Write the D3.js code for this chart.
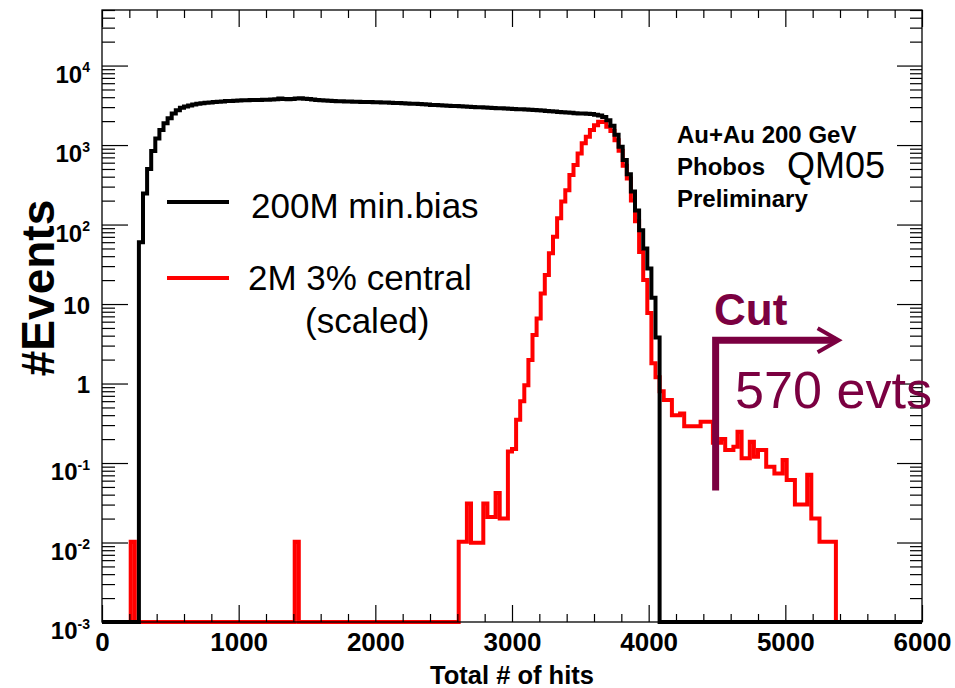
<!DOCTYPE html>
<html>
<head>
<meta charset="utf-8">
<script src="https://cdn.jsdelivr.net/npm/d3@7"></script>
<style>
  body { margin: 0; background: #fff; }
  svg { display: block; }
  text { font-family: 'Liberation Sans', Arial, Helvetica, sans-serif; }
</style>
</head>
<body>
<svg id="chart" width="955" height="688"></svg>
<script>
// histogram binning + axis ranges
const binWidth = 30
const xDomain = [0, 6000]
const yDomain = [1e-3, 5e4]
const xMajorTicks = [0, 1000, 2000, 3000, 4000, 5000, 6000]
const yDecades = [1e-3, 1e-2, 1e-1, 1, 10, 1e2, 1e3, 1e4]

// 200M min.bias, one value per bin starting at minBiasStart
const minBiasStart = 270
const minBiasCounts = [
  60, 245, 500, 840, 1210, 1550, 1880, 2170, 2500, 2750, 2950, 3050, 3150, 3230, 3300, 3350, 3400, 3440, 3480,
  3510, 3540, 3570, 3590, 3610, 3630, 3650, 3660, 3680, 3690, 3700, 3710, 3720, 3740, 3760, 3860, 3800, 3780,
  3800, 3850, 3870, 3830, 3790,
  3740, 3700, 3660, 3640, 3610, 3580, 3560, 3550, 3530, 3520, 3510, 3500, 3490, 3480, 3470, 3460, 3450, 3430,
  3420, 3400, 3390, 3370, 3350, 3340, 3320, 3300, 3280, 3250, 3230, 3200,
  3180, 3170, 3150, 3130, 3110, 3090, 3070, 3060, 3040, 3020, 3000, 2980, 2960, 2940, 2920, 2910, 2900, 2880,
  2870, 2850, 2830, 2820, 2800, 2780, 2760, 2740, 2720, 2690, 2670, 2640, 2610, 2590, 2560, 2540, 2520, 2500,
  2490, 2480, 2450, 2400, 2350,
  2250, 2050, 1750, 1350, 950, 650, 430, 260, 150, 85, 50, 28, 12, 3.8
]

// 2M 3% central (scaled)
const centralSpikes = [[210, 0.0102], [1410, 0.0102]]
const centralStart = 2610
const centralCounts = [
  0.0102, 0.0102, 0.031, 0.0099, 0.0099, 0.0099, 0.031, 0.021, 0.021, 0.042, 0.020, 0.020,
  0.14, 0.15, 0.35, 0.6, 0.95, 1.98, 4.07, 6.6, 13.6, 23.2, 43.4, 70,
  120, 195, 271, 419, 560, 785, 1050, 1270, 1548, 1780, 1960, 1950,
  1700, 1500, 1150, 850, 550, 380, 200, 110, 45, 20, 7.7, 1.8,
  1.2, 0.8, 0.62, 0.62, 0.40, 0.40, 0.42, 0.29, 0.29, 0.29, 0.29, 0.33,
  0.33, 0.33, 0.18, 0.18, 0.20, 0.146, 0.146, 0.16, 0.248, 0.115, 0.115, 0.185,
  0.12, 0.146, 0.146, 0.09, 0.09, 0.074, 0.074, 0.109, 0.061, 0.061, 0.030, 0.030,
  0.030, 0.071, 0.02, 0.02, 0.0102, 0.0102, 0.0102, 0.0102
]

// cut annotation
const cutHits = 4490
const cutArrowEnd = 5390
const cutTop = 3.5
const cutBottom = 0.045

const legendItems = [
  {label: '200M min.bias', color: '#000'},
  {label: '2M 3% central', sub: '(scaled)', color: '#ff0000'}
]
const infoLines = ['Au+Au 200 GeV', 'Phobos', 'Preliminary']

const frame = {left: 102, right: 922, top: 10, bottom: 622}
const svg = d3.select('#chart')

const x = d3.scaleLinear().domain(xDomain).range([frame.left, frame.right])
const y = d3.scaleLog().domain(yDomain).range([frame.bottom, frame.top])

// minor ticks
const xMinor = d3.range(xDomain[0], xDomain[1] + 1, 200).filter(v => v % 1000 !== 0)
const yMinor = []
yDecades.forEach(d => {
  for (let k = 2; k <= 9; k++) {
    if (k * d <= yDomain[1] * 1.0001) yMinor.push(k * d)
  }
})

function fillBins(start, counts, spikes) {
  const n = Math.round((xDomain[1] - xDomain[0]) / binWidth)
  const vals = new Array(n).fill(0)
  ;(spikes || []).forEach(([h, v]) => { vals[Math.round(h / binWidth)] = v })
  const s = Math.round(start / binWidth)
  counts.forEach((v, i) => { vals[s + i] = v })
  const pts = vals.map((v, i) => [xDomain[0] + i * binWidth, v])
  pts.push([xDomain[1], vals[n - 1]])
  return pts
}

const histLine = d3.line()
  .x(d => x(d[0]))
  .y(d => y(Math.max(d[1], yDomain[0])))
  .curve(d3.curveStepAfter)

// histograms (central first, min.bias on top)
svg.append('path')
  .datum(fillBins(centralStart, centralCounts, centralSpikes))
  .attr('d', histLine)
  .attr('fill', 'none')
  .attr('stroke', '#ff0000')
  .attr('stroke-width', 4)
  .attr('stroke-linejoin', 'miter')

svg.append('path')
  .datum(fillBins(minBiasStart, minBiasCounts))
  .attr('d', histLine)
  .attr('fill', 'none')
  .attr('stroke', '#000')
  .attr('stroke-width', 4)
  .attr('stroke-linejoin', 'miter')

// frame
svg.append('rect')
  .attr('x', frame.left).attr('y', frame.top)
  .attr('width', frame.right - frame.left).attr('height', frame.bottom - frame.top)
  .attr('fill', 'none').attr('stroke', '#000').attr('stroke-width', 1.3)

function styleAxis(g) {
  g.select('.domain').remove()
  g.selectAll('.tick line').attr('stroke', '#000').attr('stroke-width', 1.2)
}

// bottom axis with labels
svg.append('g')
  .attr('transform', `translate(0,${frame.bottom})`)
  .call(d3.axisBottom(x).tickValues(xMajorTicks).tickSize(-17).tickPadding(11).tickFormat(d3.format('d')))
  .call(styleAxis)
  .call(g => g.selectAll('.tick text')
    .attr('font-family', "'Liberation Sans', Arial, sans-serif")
    .attr('font-weight', 'bold')
    .attr('font-size', 26)
    .attr('fill', '#000'))
svg.append('g')
  .attr('transform', `translate(0,${frame.bottom})`)
  .call(d3.axisBottom(x).tickValues(xMinor).tickSize(-8).tickFormat(''))
  .call(styleAxis)

// top axis (ticks only)
svg.append('g')
  .attr('transform', `translate(0,${frame.top})`)
  .call(d3.axisTop(x).tickValues(xMajorTicks).tickSize(-17).tickFormat(''))
  .call(styleAxis)
svg.append('g')
  .attr('transform', `translate(0,${frame.top})`)
  .call(d3.axisTop(x).tickValues(xMinor).tickSize(-8).tickFormat(''))
  .call(styleAxis)

// left axis with 10^n labels
svg.append('g')
  .attr('transform', `translate(${frame.left},0)`)
  .call(d3.axisLeft(y).tickValues(yDecades).tickSize(-26).tickPadding(12).tickFormat(''))
  .call(styleAxis)
  .call(g => g.selectAll('.tick text').each(function(d) {
    const t = d3.select(this)
      .attr('font-family', "'Liberation Sans', Arial, sans-serif")
      .attr('font-weight', 'bold')
      .attr('font-size', 24)
      .attr('fill', '#000')
    const e = Math.round(Math.log10(d))
    if (e === 0 || e === 1) {
      t.attr('dy', 9).text(e === 0 ? '1' : '10')
    } else {
      t.attr('dy', 16.5)
      t.append('tspan').text('10')
      t.append('tspan').attr('dy', -10.5).attr('font-size', 14).text(e)
    }
  }))
svg.append('g')
  .attr('transform', `translate(${frame.left},0)`)
  .call(d3.axisLeft(y).tickValues(yMinor).tickSize(-13).tickFormat(''))
  .call(styleAxis)

// right axis (ticks only)
svg.append('g')
  .attr('transform', `translate(${frame.right},0)`)
  .call(d3.axisRight(y).tickValues(yDecades).tickSize(-25).tickFormat(''))
  .call(styleAxis)
svg.append('g')
  .attr('transform', `translate(${frame.right},0)`)
  .call(d3.axisRight(y).tickValues(yMinor).tickSize(-12).tickFormat(''))
  .call(styleAxis)

// axis titles
svg.append('text')
  .attr('x', 512).attr('y', 684)
  .attr('text-anchor', 'middle')
  .attr('font-weight', 'bold').attr('font-size', 25.5)
  .text('Total # of hits')

svg.append('text')
  .attr('transform', 'translate(54,288) rotate(-90)')
  .attr('text-anchor', 'middle')
  .attr('font-weight', 'bold').attr('font-size', 46)
  .text('#Events')

// legend
const legendY = [202, 278]
legendItems.forEach((item, i) => {
  svg.append('line')
    .attr('x1', 167).attr('x2', 229)
    .attr('y1', legendY[i]).attr('y2', legendY[i])
    .attr('stroke', item.color).attr('stroke-width', 4)
  svg.append('text')
    .attr('x', i === 0 ? 251 : 248).attr('y', legendY[i] + (i === 0 ? 16 : 12))
    .attr('font-size', 35)
    .text(item.label)
  if (item.sub) {
    svg.append('text')
      .attr('x', 305).attr('y', legendY[i] + 55)
      .attr('font-size', 35)
      .text(item.sub)
  }
})

// info box
infoLines.forEach((s, i) => {
  svg.append('text')
    .attr('x', 677).attr('y', 143 + i * 32)
    .attr('font-weight', 'bold').attr('font-size', 24)
    .text(s)
})
svg.append('text')
  .attr('x', 787).attr('y', 178)
  .attr('font-size', 36)
  .text('QM05')

// cut marker
const cutColor = '#7b0041'
const cx = x(cutHits), cyTop = y(cutTop), cyBot = y(cutBottom), tipX = x(cutArrowEnd)
svg.append('path')
  .attr('d', `M${cx},${cyBot} L${cx},${cyTop} L${tipX - 3},${cyTop}`)
  .attr('fill', 'none').attr('stroke', cutColor).attr('stroke-width', 7)
  .attr('stroke-linejoin', 'miter')
svg.append('path')
  .attr('d', `M${tipX - 21},${cyTop - 12} L${tipX},${cyTop} L${tipX - 21},${cyTop + 12}`)
  .attr('fill', 'none').attr('stroke', cutColor).attr('stroke-width', 4)
svg.append('text')
  .attr('x', 714).attr('y', 325)
  .attr('font-family', "'DejaVu Sans', sans-serif")
  .attr('font-weight', 'bold').attr('font-size', 44)
  .attr('fill', cutColor)
  .text('Cut')
svg.append('text')
  .attr('x', 735).attr('y', 408)
  .attr('font-family', "'Open Sans', 'DejaVu Sans', sans-serif")
  .attr('font-size', 52)
  .attr('textLength', 197).attr('lengthAdjust', 'spacingAndGlyphs')
  .attr('fill', cutColor)
  .text('570 evts')
</script>
</body>
</html>
